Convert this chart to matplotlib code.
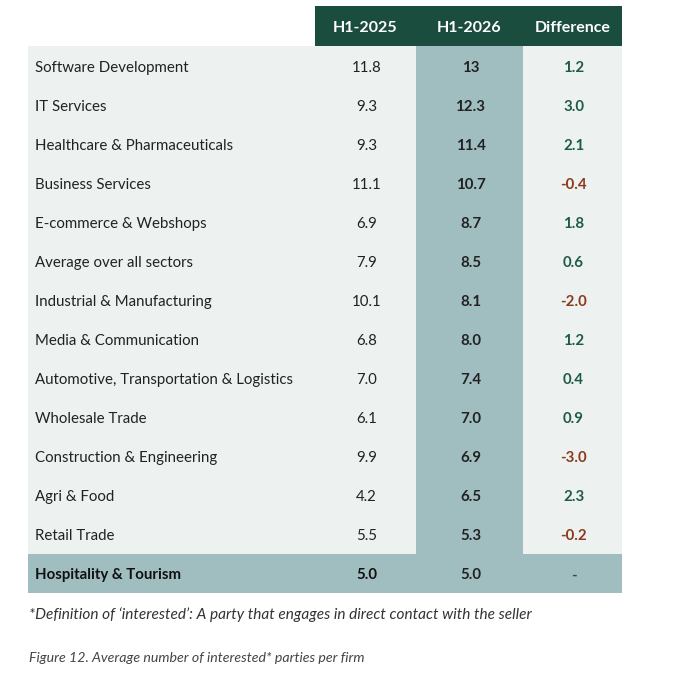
import matplotlib
matplotlib.use("Agg")
import matplotlib.pyplot as plt
import matplotlib.patches as patches

plt.rcParams['font.family'] = ['Lato', 'DejaVu Sans']

sectors = ["Software Development", "IT Services", "Healthcare & Pharmaceuticals",
           "Business Services", "E-commerce & Webshops", "Average over all sectors",
           "Industrial & Manufacturing", "Media & Communication",
           "Automotive, Transportation & Logistics", "Wholesale Trade",
           "Construction & Engineering", "Agri & Food", "Retail Trade",
           "Hospitality & Tourism"]
h1_2025 = ["11.8", "9.3", "9.3", "11.1", "6.9", "7.9", "10.1", "6.8", "7.0", "6.1",
           "9.9", "4.2", "5.5", "5.0"]
h1_2026 = ["13", "12.3", "11.4", "10.7", "8.7", "8.5", "8.1", "8.0", "7.4", "7.0",
           "6.9", "6.5", "5.3", "5.0"]
difference = ["1.2", "3.0", "2.1", "-0.4", "1.8", "0.6", "-2.0", "1.2", "0.4", "0.9",
              "-3.0", "2.3", "-0.2", "-"]
headers = ["H1-2025", "H1-2026", "Difference"]

footnote = "*Definition of \u2018interested\u2019: A party that engages in direct contact with the seller"
caption = "Figure 12. Average number of interested* parties per firm"

DARK = "#1a4d3e"
LIGHT = "#edf1f0"
TEAL = "#a0bdbf"
TXT = "#222222"
POS = "#1e5b46"
NEG = "#8a3a1d"

fig = plt.figure(figsize=(6.82, 6.87), dpi=100)
ax = fig.add_axes([0, 0, 1, 1])
ax.set_xlim(0, 682)
ax.set_ylim(687, 0)
ax.axis('off')

left, right = 28, 622
col_edges = [315, 416, 523, 622]
top_head, top_body = 6, 46
row_h = 39.07
n = len(sectors)
fs = 10.8

# header
for i, h in enumerate(headers):
    ax.add_patch(patches.Rectangle((col_edges[i], top_head), col_edges[i + 1] - col_edges[i],
                                   top_body - top_head, facecolor=DARK, edgecolor='none'))
    ax.text((col_edges[i] + col_edges[i + 1]) / 2, (top_head + top_body) / 2 + 2, h,
            color='white', fontsize=11.5, fontweight='bold', ha='center', va='center')

# body backgrounds
last_top = top_body + (n - 1) * row_h
ax.add_patch(patches.Rectangle((left, top_body), right - left, last_top - top_body,
                               facecolor=LIGHT, edgecolor='none'))
ax.add_patch(patches.Rectangle((col_edges[1], top_body), col_edges[2] - col_edges[1],
                               last_top - top_body, facecolor=TEAL, edgecolor='none'))
ax.add_patch(patches.Rectangle((left, last_top), right - left, row_h,
                               facecolor=TEAL, edgecolor='none'))

centers = [(col_edges[i] + col_edges[i + 1]) / 2 for i in range(3)]
for r in range(n):
    y = top_body + (r + 0.5) * row_h + 2
    last = r == n - 1
    ax.text(35, y, sectors[r], color=TXT if not last else '#111111', fontsize=fs,
            fontweight='bold' if last else 'normal', ha='left', va='center')
    ax.text(centers[0] + 1, y, h1_2025[r], color=TXT if not last else '#111111', fontsize=fs,
            fontweight='bold' if last else 'normal', ha='center', va='center')
    ax.text(centers[1] + 1, y, h1_2026[r], color=TXT, fontsize=fs,
            fontweight='bold', ha='center', va='center')
    d = difference[r]
    c = NEG if d.startswith('-') and len(d) > 1 else POS
    ax.text(centers[2] + 1, y, d, color=c, fontsize=fs, fontweight='bold',
            ha='center', va='center')

ax.text(29, 615, footnote, color='#333333', fontsize=11.1, style='italic',
        ha='left', va='center')
ax.text(29, 658, caption, color='#444444', fontsize=10.2, style='italic',
        ha='left', va='center')

fig.savefig("out.png", dpi=100)
